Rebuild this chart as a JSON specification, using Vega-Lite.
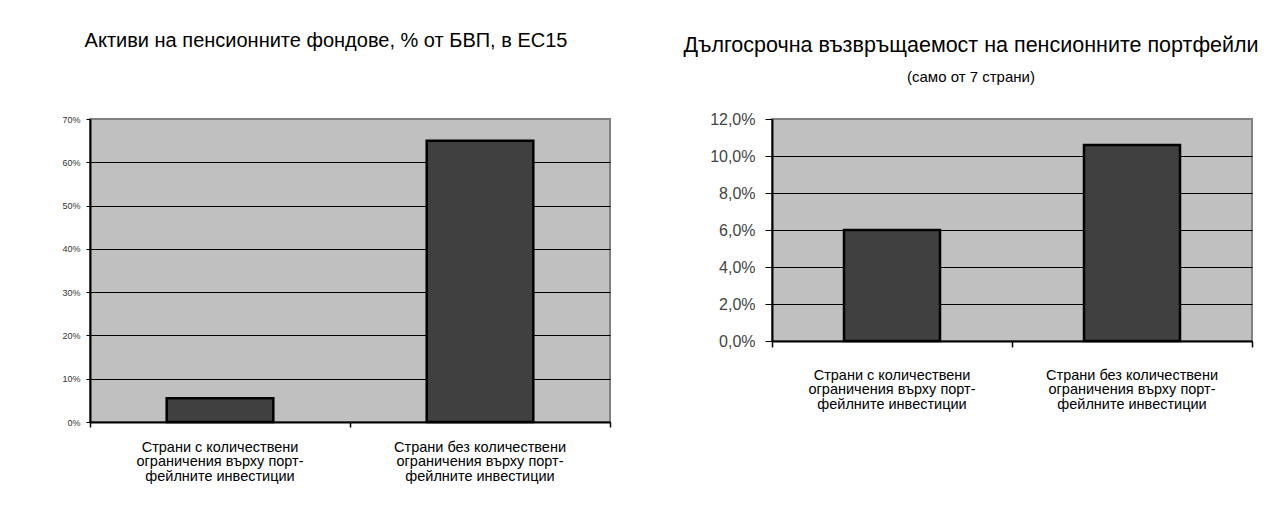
{
  "$schema": "https://vega.github.io/schema/vega-lite/v6.json",
  "background": "white",
  "padding": {"left": 60, "top": 30, "right": 0, "bottom": 0},
  "spacing": 162,
  "bounds": "flush",
  "config": {
    "font": "Liberation Sans",
    "view": {"fill": "#c0c0c0", "stroke": "#808080", "strokeWidth": 2},
    "title": {"fontWeight": "normal", "color": "black", "frame": "group", "anchor": "middle"}
  },
  "hconcat": [
    {
      "width": 520,
      "height": 303,
      "title": {"text": "Активи на пенсионните фондове, % от БВП, в ЕС15", "fontSize": 20, "offset": 64, "dx": -24},
      "data": {"values": [
        {"group": "Страни с количествени|ограничения върху порт-|фейлните инвестиции", "value": 0.055},
        {"group": "Страни без количествени|ограничения върху порт-|фейлните инвестиции", "value": 0.65}
      ]},
      "mark": {"type": "bar", "width": {"band": 0.41}, "fill": "#404040", "stroke": "black", "strokeWidth": 2.5},
      "encoding": {
        "x": {"field": "group", "type": "nominal", "sort": null,
          "scale": {"paddingInner": 0, "paddingOuter": 0},
          "axis": {"title": null, "labelAngle": 0, "labelExpr": "split(datum.label, '|')", "bandPosition": 1, "tickExtra": true,
            "domainColor": "black", "domainWidth": 2, "tickColor": "black", "tickSize": 5, "tickWidth": 1.5,
            "labelFontSize": 14.5, "labelColor": "black", "labelLineHeight": 14.5, "labelPadding": 13, "grid": false}},
        "y": {"field": "value", "type": "quantitative",
          "scale": {"domain": [0, 0.7], "nice": false},
          "axis": {"title": null, "values": [0, 0.1, 0.2, 0.3, 0.4, 0.5, 0.6, 0.7], "format": ".0%",
            "labelFontSize": 9, "labelColor": "#333333", "tickSize": 4, "tickColor": "black", "labelPadding": 6,
            "domainColor": "black", "domainWidth": 2,
            "gridColor": {"condition": {"test": "datum.value > 0.69", "value": "#808080"}, "value": "black"}, "gridWidth": 1.2}}
      }
    },
    {
      "width": 480,
      "height": 222,
      "title": {"text": "Дългосрочна възвръщаемост на пенсионните портфейли", "fontSize": 21.5, "subtitle": "(само от 7 страни)", "subtitleFontSize": 15, "subtitleColor": "black", "subtitlePadding": 14, "offset": 26, "dx": -41},
      "data": {"values": [
        {"group": "Страни с количествени|ограничения върху порт-|фейлните инвестиции", "value": 0.06},
        {"group": "Страни без количествени|ограничения върху порт-|фейлните инвестиции", "value": 0.106}
      ]},
      "mark": {"type": "bar", "width": {"band": 0.4}, "fill": "#404040", "stroke": "black", "strokeWidth": 2.5},
      "encoding": {
        "x": {"field": "group", "type": "nominal", "sort": null,
          "scale": {"paddingInner": 0, "paddingOuter": 0},
          "axis": {"title": null, "labelAngle": 0, "labelExpr": "split(datum.label, '|')", "bandPosition": 1, "tickExtra": true,
            "domainColor": "black", "domainWidth": 2, "tickColor": "black", "tickSize": 6, "tickWidth": 1.5,
            "labelFontSize": 14.5, "labelColor": "black", "labelLineHeight": 14.5, "labelPadding": 21, "grid": false}},
        "y": {"field": "value", "type": "quantitative",
          "scale": {"domain": [0, 0.12], "nice": false},
          "axis": {"title": null, "values": [0, 0.02, 0.04, 0.06, 0.08, 0.1, 0.12],
            "labelExpr": "replace(format(datum.value, '.1%'), '.', ',')",
            "labelFontSize": 16, "labelColor": "#444444", "tickSize": 7, "tickColor": "black", "labelPadding": 10,
            "domainColor": "black", "domainWidth": 2,
            "gridColor": {"condition": {"test": "datum.value > 0.119", "value": "#808080"}, "value": "black"}, "gridWidth": 1.2}}
      }
    }
  ]
}
